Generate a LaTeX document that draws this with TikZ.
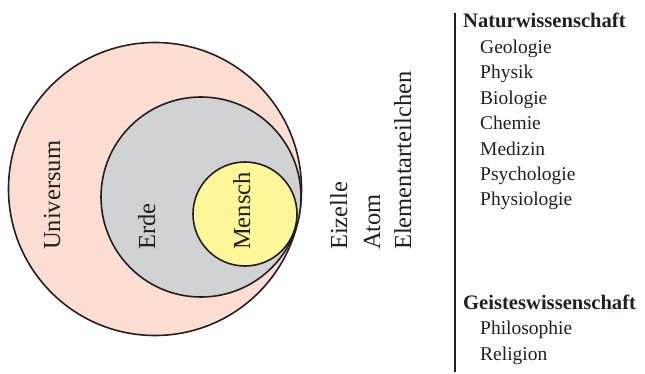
\documentclass[tikz,border=0pt]{standalone}
\usepackage{fontspec}
\setmainfont{Liberation Serif}
\usepackage{tikz}
\usetikzlibrary{
  positioning
}

\definecolor{rosa}{RGB}{252,221,210}
\definecolor{erdgrau}{RGB}{209,210,212}
\definecolor{gelb}{RGB}{255,246,154}
\definecolor{schrift}{RGB}{35,31,32}

\begin{document}
\begin{tikzpicture}[
      x=1pt,y=-1pt,
      kreis/.style={
         circle,
         inner sep=0pt,
         line width=1.6pt,
         draw=schrift
      },
      etikett/.style={
         rotate=90,
         anchor=base west,
         inner sep=0pt,
         text=schrift,
         font=\fontsize{24.5}{28}\selectfont
      },
      gebiet/.style={
         anchor=base west,
         inner sep=0pt,
         text=schrift,
         font=\fontsize{20.6}{24}\selectfont\bfseries
      },
      fach/.style={
         anchor=base west,
         inner sep=0pt,
         text=schrift,
         font=\fontsize{19.5}{24}\selectfont
      }
    ]
    \useasboundingbox (0,0) rectangle (645,374);
    % Kreise
    \node (universum) [kreis, fill=rosa, minimum size=293pt] at (155,189) {};
    \node (erde) [kreis, fill=erdgrau, minimum size=200pt] at (201,197) {};
    \node (mensch) [kreis, fill=gelb, minimum size=104pt] at (245,214) {};
    % Beschriftungen
    \node (t1) [etikett] at (60,250) {Universum};
    \node (t2) [etikett] at (155,250) {Erde};
    \node (t3) [etikett] at (250,250) {Mensch};
    \node (t4) [etikett] at (347,250) {Eizelle};
    \node (t5) [etikett] at (380,250) {Atom};
    \node (t6) [etikett] at (411,250) {Elementarteilchen};
    % Liste
    \coordinate (oben) at (455,13);
    \coordinate (unten) at (455,372);
    \draw[line width=2pt, draw=schrift] (oben) -- (unten);
    \node (g1) [gebiet] at (463,28) {Naturwissenschaft};
    \node (f11) [fach] at (480,53.5) {Geologie};
    \node (f12) [fach] at (480,79) {Physik};
    \node (f13) [fach] at (480,104.5) {Biologie};
    \node (f14) [fach] at (480,130) {Chemie};
    \node (f15) [fach] at (480,155.5) {Medizin};
    \node (f16) [fach] at (480,181) {Psychologie};
    \node (f17) [fach] at (480,206) {Physiologie};
    \node (g2) [gebiet] at (463,309) {Geisteswissenschaft};
    \node (f21) [fach] at (480,334.5) {Philosophie};
    \node (f22) [fach] at (480,360) {Religion};
\end{tikzpicture}
\end{document}
